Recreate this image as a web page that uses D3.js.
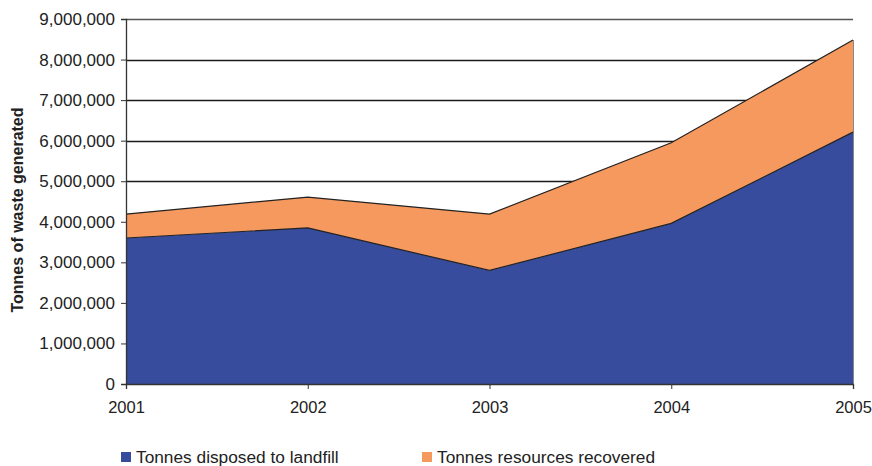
<!DOCTYPE html>
<html>
<head>
<meta charset="utf-8">
<script src="https://cdn.jsdelivr.net/npm/d3@7"></script>
<style>
  html, body { margin: 0; padding: 0; background: #fff; }
  svg { display: block; font-family: "Liberation Sans", Arial, sans-serif; }
</style>
</head>
<body>
<svg id="chart" width="872" height="466"></svg>
<script>
// Waste generated per year, split into landfill and recovered tonnes
const years = ["2001", "2002", "2003", "2004", "2005"];
const landfill = [3600000, 3850000, 2800000, 3960000, 6210000];
const recovered = [590000, 760000, 1390000, 1990000, 2270000];
const yTicks = [0, 1000000, 2000000, 3000000, 4000000, 5000000, 6000000, 7000000, 8000000, 9000000];
const seriesNames = ["Tonnes disposed to landfill", "Tonnes resources recovered"];
const colors = ["#374c9d", "#f5995f"];

const svg = d3.select("#chart");
const margin = { left: 126, right: 19, top: 19, bottom: 82 };
const W = 872, H = 466;

const x = d3.scalePoint().domain(years).range([margin.left, W - margin.right]);
const y = d3.scaleLinear().domain([0, 9000000]).range([H - margin.bottom, margin.top]);

const rows = years.map((yr, i) => ({ year: yr, landfill: landfill[i], recovered: recovered[i] }));
const stack = d3.stack().keys(["landfill", "recovered"])(rows);

// horizontal gridlines
svg.append("g").selectAll("line").data(yTicks.filter(d => d > 0)).join("line")
  .attr("x1", margin.left).attr("x2", W - margin.right)
  .attr("y1", d => Math.round(y(d)) + 0.5).attr("y2", d => Math.round(y(d)) + 0.5)
  .attr("stroke", (d) => d === 9000000 ? "#555" : "#1a1a1a")
  .attr("stroke-width", 1.3);

// stacked areas
const area = d3.area()
  .x(d => x(d.data.year))
  .y0(d => y(d[0]))
  .y1(d => y(d[1]));

svg.append("g").selectAll("path").data(stack).join("path")
  .attr("d", area)
  .attr("fill", (d, i) => colors[i])
  .attr("stroke", "none");

// outline along the top of each layer
const topLine = d3.line().x(d => x(d.data.year)).y(d => y(d[1]));
svg.append("g").selectAll("path").data(stack).join("path")
  .attr("d", topLine)
  .attr("fill", "none")
  .attr("stroke", "#222")
  .attr("stroke-width", 1.2);

// right border of the plot
svg.append("line")
  .attr("x1", W - margin.right + 0.5).attr("x2", W - margin.right + 0.5)
  .attr("y1", y(0)).attr("y2", y(d3.max(stack[1], d => d[1])))
  .attr("stroke", "#888").attr("stroke-width", 1);

// y axis
const yAxis = svg.append("g")
  .attr("transform", `translate(${margin.left},0)`)
  .call(d3.axisLeft(y).tickValues(yTicks).tickSize(5).tickPadding(6)
    .tickFormat(d3.format(",")));
yAxis.select(".domain").attr("stroke", "#333").attr("stroke-width", 1.3);
yAxis.selectAll(".tick line").attr("stroke", "#333");
yAxis.selectAll("text").attr("font-size", "17px").attr("fill", "#222")
  .attr("font-family", "'Liberation Sans', Arial, sans-serif");

// x axis
const xAxis = svg.append("g")
  .attr("transform", `translate(0,${y(0)})`)
  .call(d3.axisBottom(x).tickSize(5).tickPadding(12));
xAxis.select(".domain").attr("stroke", "#333").attr("stroke-width", 1.3);
xAxis.selectAll(".tick line").attr("stroke", "#333");
xAxis.selectAll("text").attr("font-size", "16.5px").attr("fill", "#222")
  .attr("font-family", "'Liberation Sans', Arial, sans-serif");

// y axis title
svg.append("text")
  .attr("transform", "translate(23,210) rotate(-90)")
  .attr("text-anchor", "middle")
  .attr("font-size", "16px").attr("font-weight", "bold").attr("fill", "#222")
  .text("Tonnes of waste generated");

// legend
const legendX = [121, 422];
const lg = svg.append("g").selectAll("g").data(seriesNames).join("g")
  .attr("transform", (d, i) => `translate(${legendX[i]},452)`);
lg.append("rect").attr("width", 10).attr("height", 10)
  .attr("fill", (d, i) => colors[i]);
lg.append("text").attr("x", 15).attr("y", 11)
  .attr("font-size", "17.3px").attr("fill", "#222")
  .text(d => d);
</script>
</body>
</html>
